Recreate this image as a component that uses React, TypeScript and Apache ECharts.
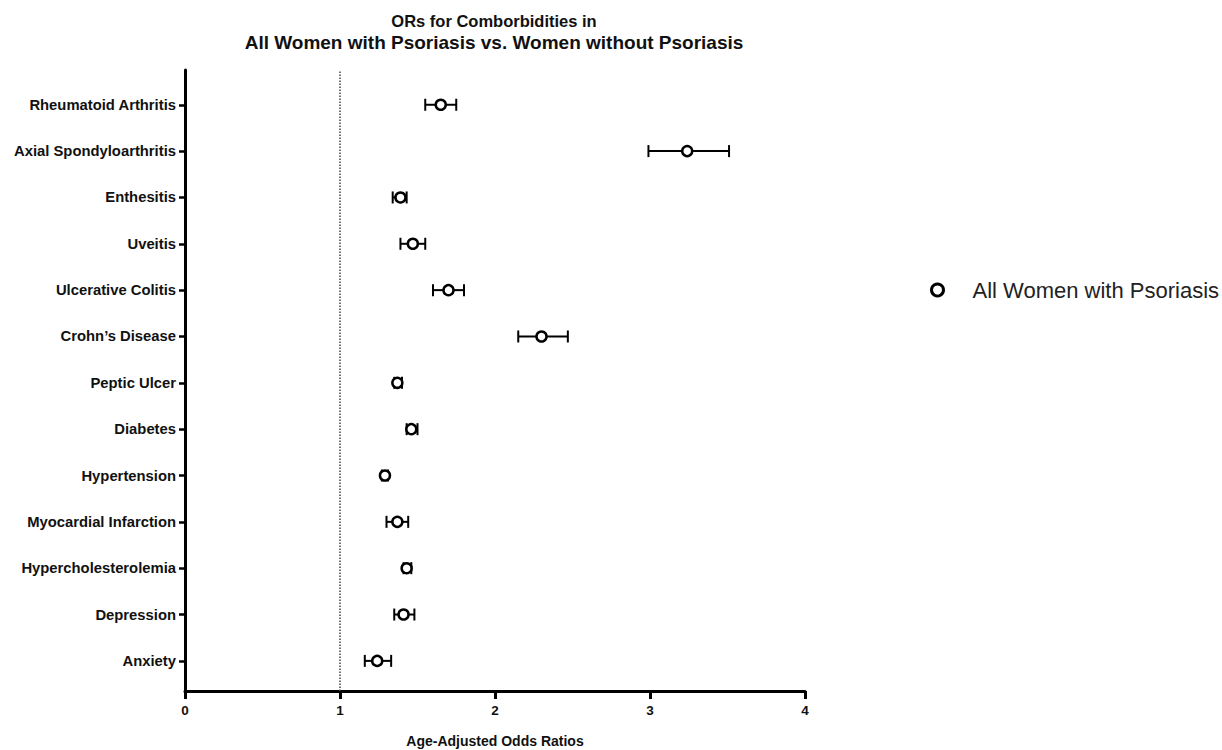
import React, { useEffect, useRef } from "react";
import * as echarts from "echarts";

// Categories listed from top to bottom
const categories = [
  "Rheumatoid Arthritis",
  "Axial Spondyloarthritis",
  "Enthesitis",
  "Uveitis",
  "Ulcerative Colitis",
  "Crohn\u2019s Disease",
  "Peptic Ulcer",
  "Diabetes",
  "Hypertension",
  "Myocardial Infarction",
  "Hypercholesterolemia",
  "Depression",
  "Anxiety",
];
const oddsRatio = [1.65, 3.24, 1.39, 1.47, 1.70, 2.30, 1.37, 1.46, 1.29, 1.37, 1.43, 1.41, 1.24];
const lowerCI = [1.55, 2.99, 1.34, 1.39, 1.60, 2.15, 1.35, 1.43, 1.27, 1.30, 1.41, 1.35, 1.16];
const upperCI = [1.75, 3.51, 1.43, 1.55, 1.80, 2.47, 1.40, 1.50, 1.31, 1.44, 1.46, 1.48, 1.33];
const xTicks = [0, 1, 2, 3, 4];
const referenceLine = 1;
const seriesName = "All Women with Psoriasis";

const n = categories.length;
const rowPos = categories.map((_, i) => n - i); // top row gets highest value

export default function App() {
  const ref = useRef<HTMLDivElement>(null);
  useEffect(() => {
    if (!ref.current) return;
    const chart = echarts.init(ref.current, null, { renderer: "svg" });
    const font = "Arial, 'Liberation Sans', Helvetica, sans-serif";
    const scatterData = oddsRatio.map((v, i) => [v, rowPos[i]]);
    const barData = oddsRatio.map((_, i) => [rowPos[i], lowerCI[i], upperCI[i]]);
    chart.setOption({
      animation: false,
      backgroundColor: "#fff",
      textStyle: { fontFamily: font },
      title: {
        text: "{a|ORs for Comborbidities in}\n{b|All Women with Psoriasis vs. Women without Psoriasis}",
        left: 489,
        textAlign: "center",
        top: 5,
        textStyle: {
          rich: {
            a: { fontSize: 16.5, fontWeight: "bold", color: "#111", fontFamily: font, lineHeight: 21 },
            b: { fontSize: 19, fontWeight: "bold", color: "#111", fontFamily: font, lineHeight: 22 },
          },
        },
      },
      legend: {
        data: [{ name: seriesName, icon: "circle" }],
        left: 925,
        top: 274,
        orient: "vertical",
        itemWidth: 12,
        itemHeight: 12,
        itemGap: 10,
        itemStyle: { color: "#fff", borderColor: "#000", borderWidth: 3 },
        textStyle: { fontSize: 22, color: "#222", fontFamily: font, padding: [0, 0, 0, 24] },
      },
      grid: { left: 185, right: 417, top: 70, bottom: 59, containLabel: false, outerBoundsMode: "none" },
      xAxis: {
        type: "value",
        min: 0,
        max: 4,
        interval: 1,
        name: "Age-Adjusted Odds Ratios",
        nameLocation: "middle",
        nameGap: 43,
        nameTextStyle: { fontSize: 14, fontWeight: "bold", color: "#111", fontFamily: font },
        axisLine: { show: true, lineStyle: { color: "#000", width: 3 } },
        axisTick: { show: true, length: 8, lineStyle: { color: "#000", width: 3 } },
        axisLabel: {
          fontSize: 13.5,
          fontWeight: "bold",
          color: "#111",
          margin: 12,
          fontFamily: font,
          customValues: xTicks,
        },
        splitLine: { show: false },
      },
      yAxis: {
        type: "value",
        min: 0.35,
        max: 13.75,
        axisLine: { show: true, onZero: false, lineStyle: { color: "#000", width: 3 } },
        axisTick: { show: true, length: 6, customValues: rowPos, lineStyle: { color: "#000", width: 2.5 } },
        axisLabel: {
          customValues: rowPos,
          fontSize: 14.8,
          fontWeight: "bold",
          color: "#111",
          margin: 9,
          fontFamily: font,
          formatter: (v: number) => categories[n - Math.round(v)] ?? "",
        },
        splitLine: { show: false },
      },
      series: [
        {
          type: "custom",
          name: "CI",
          data: barData,
          encode: { x: [1, 2], y: 0 },
          z: 2,
          renderItem: (params: any, api: any) => {
            const y = api.value(0);
            const lo = api.coord([api.value(1), y]);
            const hi = api.coord([api.value(2), y]);
            const cap = 6;
            const style = { stroke: "#000", lineWidth: 2 };
            return {
              type: "group",
              children: [
                { type: "line", shape: { x1: lo[0], y1: lo[1], x2: hi[0], y2: hi[1] }, style },
                { type: "line", shape: { x1: lo[0], y1: lo[1] - cap, x2: lo[0], y2: lo[1] + cap }, style },
                { type: "line", shape: { x1: hi[0], y1: hi[1] - cap, x2: hi[0], y2: hi[1] + cap }, style },
              ],
            };
          },
        },
        {
          type: "scatter",
          name: seriesName,
          data: scatterData,
          symbol: "circle",
          symbolSize: 10,
          z: 3,
          itemStyle: { color: "#fff", borderColor: "#000", borderWidth: 2.5, opacity: 1 },
          markLine: {
            silent: true,
            symbol: "none",
            label: { show: false },
            lineStyle: { type: "dotted", color: "#444", width: 1.5 },
            data: [{ xAxis: referenceLine }],
          },
        },
      ],
    });
    return () => chart.dispose();
  }, []);
  return (
    <div
      ref={ref}
      style={{ position: "fixed", left: 0, top: 0, width: 1222, height: 750, background: "#fff" }}
    />
  );
}
